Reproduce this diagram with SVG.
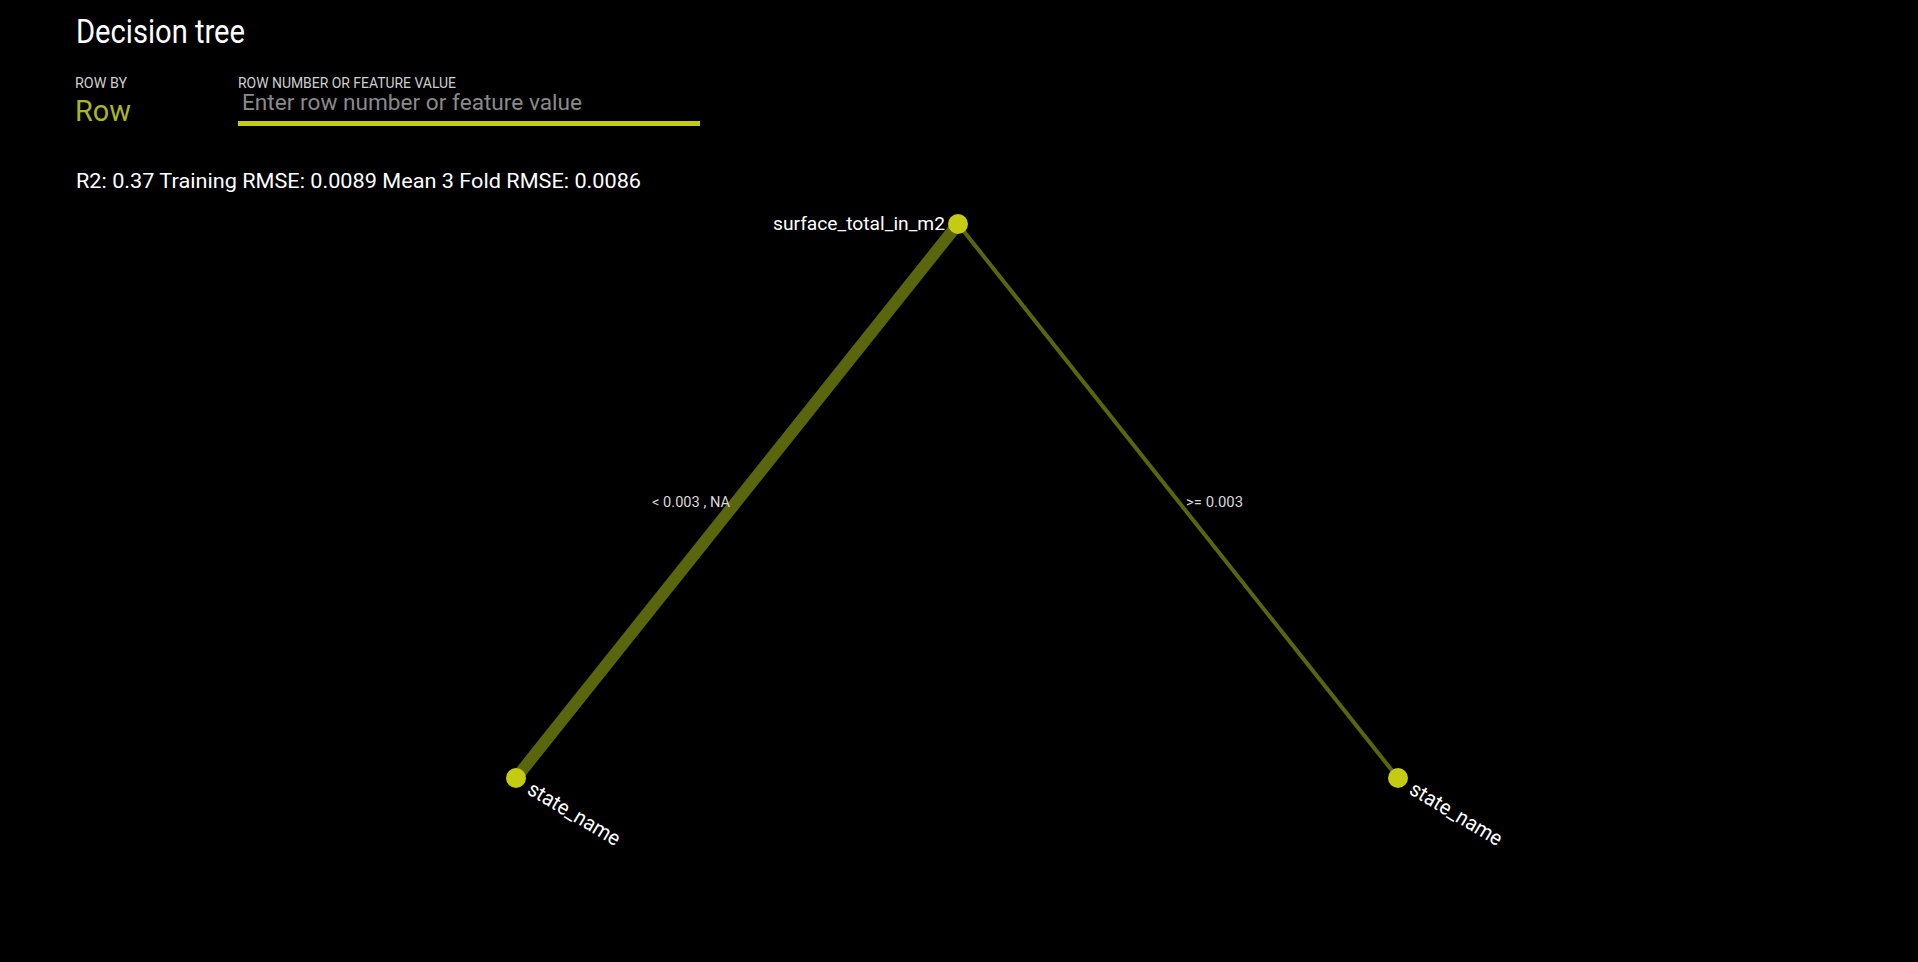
<svg xmlns="http://www.w3.org/2000/svg" width="1918" height="962" viewBox="0 0 1918 962">
<style>
text{font-family:"Roboto","DejaVu Sans Condensed","Liberation Sans",sans-serif;}
.w{fill:#ffffff}
.lbl{fill:#d8d8d8}
.edge{stroke:#5b650d;stroke-linecap:round;fill:none}
.node{fill:#c3cc12}
</style>
<rect width="1918" height="962" fill="#000000"/>
<g id="header">
<text class="w" x="76" y="43" font-size="33" textLength="169" lengthAdjust="spacingAndGlyphs">Decision tree</text>
<text fill="#cfcfcf" x="75" y="88" font-size="14" textLength="52" lengthAdjust="spacingAndGlyphs">ROW BY</text>
<text fill="#a8b52a" x="75" y="121" font-size="30" textLength="56" lengthAdjust="spacingAndGlyphs">Row</text>
<text fill="#cfcfcf" x="238" y="88" font-size="14" textLength="218" lengthAdjust="spacingAndGlyphs">ROW NUMBER OR FEATURE VALUE</text>
<text fill="#8a8a8a" x="242" y="110" font-size="22" textLength="340" lengthAdjust="spacingAndGlyphs">Enter row number or feature value</text>
<rect x="238" y="121" width="462" height="5" fill="#c3cc12"/>
<text class="w" x="76" y="188" font-size="20" textLength="565" lengthAdjust="spacingAndGlyphs">R2: 0.37 Training RMSE: 0.0089 Mean 3 Fold RMSE: 0.0086</text>
</g>
<g id="connectors">
<line class="edge" x1="958" y1="224" x2="516" y2="778" stroke-width="12"/>
<line class="edge" x1="958" y1="224" x2="1398" y2="778" stroke-width="4"/>
<text class="lbl" x="652" y="507" font-size="14" textLength="78" lengthAdjust="spacingAndGlyphs">&lt; 0.003 , NA</text>
<text class="lbl" x="1186" y="507" font-size="14" textLength="57" lengthAdjust="spacingAndGlyphs">&gt;= 0.003</text>
</g>
<g id="node-root">
<circle class="node" cx="958" cy="224" r="10"/>
<text class="w" x="945" y="230" font-size="19" text-anchor="end" textLength="172" lengthAdjust="spacingAndGlyphs">surface_total_in_m2</text>
</g>
<g id="node-left">
<circle class="node" cx="516" cy="778" r="10"/>
<text class="w" x="0" y="0" font-size="21" transform="translate(526,793) rotate(31)" textLength="104" lengthAdjust="spacingAndGlyphs">state_name</text>
</g>
<g id="node-right">
<circle class="node" cx="1398" cy="778" r="10"/>
<text class="w" x="0" y="0" font-size="21" transform="translate(1408,793) rotate(31)" textLength="104" lengthAdjust="spacingAndGlyphs">state_name</text>
</g>
</svg>
